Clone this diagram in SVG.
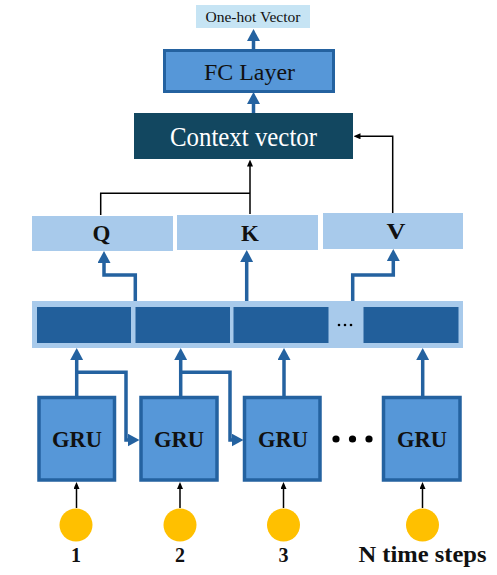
<svg xmlns="http://www.w3.org/2000/svg" width="497" height="575" viewBox="0 0 497 575">
<defs>
<style>
.serif{font-family:"Liberation Serif","DejaVu Serif",serif;}
.b{font-weight:bold;}
.blue{fill:none;stroke:#2462a0;stroke-width:3.5;stroke-linejoin:miter;}
.thin{fill:none;stroke:#000;stroke-width:1.5;}
.gru{fill:#5697d8;stroke:#2462a0;stroke-width:3.5;}
.qkv{fill:#a8caeb;}
.cell{fill:#225f9b;}
.dot{fill:#ffc000;}
</style>
<marker id="ab" markerUnits="userSpaceOnUse" markerWidth="12" markerHeight="13" viewBox="0 0 12 13" refX="0.5" refY="6.5" orient="auto">
<path d="M0,0 L12,6.5 L0,13 z" fill="#2462a0"/>
</marker>
<marker id="ak" markerUnits="userSpaceOnUse" markerWidth="7" markerHeight="6" viewBox="0 0 7 6" refX="0.5" refY="3" orient="auto">
<path d="M0,0 L7,3 L0,6 z" fill="#000"/>
</marker>
</defs>
<rect width="497" height="575" fill="#fff"/>

<g id="onehot">
<rect x="196" y="5" width="114" height="23" fill="#c6e4f4"/>
<text class="serif" x="253" y="21.5" font-size="15" text-anchor="middle" textLength="95" lengthAdjust="spacingAndGlyphs" fill="#111">One-hot Vector</text>
</g>
<g id="fc">
<rect x="164.5" y="50.5" width="169" height="41" fill="#5697d8" stroke="#2462a0" stroke-width="3"/>
<text class="serif" x="249.5" y="80" font-size="22.5" text-anchor="middle" textLength="91" lengthAdjust="spacingAndGlyphs" fill="#111">FC Layer</text>
</g>
<g id="context">
<rect x="134" y="113" width="219" height="46" fill="#124760"/>
<text class="serif" x="243.5" y="146" font-size="28" text-anchor="middle" textLength="147" lengthAdjust="spacingAndGlyphs" fill="#fff">Context vector</text>
</g>
<g id="Q">
<rect class="qkv" x="32" y="216" width="141" height="35"/>
<text class="serif b" x="101.5" y="240.5" font-size="23" text-anchor="middle" fill="#111">Q</text>
</g>
<g id="K">
<rect class="qkv" x="177" y="215" width="141" height="35"/>
<text class="serif b" x="250" y="241" font-size="23" text-anchor="middle" fill="#111">K</text>
</g>
<g id="V">
<rect class="qkv" x="323" y="213" width="140" height="36"/>
<text class="serif b" x="396" y="239" font-size="23" text-anchor="middle" textLength="19" lengthAdjust="spacingAndGlyphs" fill="#111">V</text>
</g>
<g id="hidden">
<rect x="32" y="301" width="431" height="47" fill="#a8caeb"/>
<rect class="cell" x="37" y="307" width="94" height="36"/>
<rect class="cell" x="135.5" y="307" width="94.5" height="36"/>
<rect class="cell" x="233.5" y="307" width="95" height="36"/>
<rect class="cell" x="363.5" y="307" width="95" height="36"/>
<circle cx="339" cy="325" r="1.3" fill="#000"/>
<circle cx="345" cy="325" r="1.3" fill="#000"/>
<circle cx="351" cy="325" r="1.3" fill="#000"/>
</g>
<g id="gru1">
<rect class="gru" x="39" y="397.5" width="75.5" height="82.5"/>
<text class="serif b" x="77" y="446.5" font-size="23.5" text-anchor="middle" textLength="50" lengthAdjust="spacingAndGlyphs" fill="#111">GRU</text>
</g>
<g id="gru2">
<rect class="gru" x="141" y="397.5" width="76" height="82.5"/>
<text class="serif b" x="179" y="446.5" font-size="23.5" text-anchor="middle" textLength="50" lengthAdjust="spacingAndGlyphs" fill="#111">GRU</text>
</g>
<g id="gru3">
<rect class="gru" x="244.5" y="397.5" width="75.5" height="82.5"/>
<text class="serif b" x="283" y="446.5" font-size="23.5" text-anchor="middle" textLength="50" lengthAdjust="spacingAndGlyphs" fill="#111">GRU</text>
</g>
<g id="gru4">
<rect class="gru" x="383.5" y="397.5" width="76.5" height="82.5"/>
<text class="serif b" x="422" y="446.5" font-size="23.5" text-anchor="middle" textLength="50" lengthAdjust="spacingAndGlyphs" fill="#111">GRU</text>
</g>
<g id="dots">
<circle cx="336" cy="439" r="3.6" fill="#000"/>
<circle cx="352.5" cy="439" r="3.6" fill="#000"/>
<circle cx="369" cy="439" r="3.6" fill="#000"/>
</g>
<g id="in1"><circle class="dot" cx="76" cy="525" r="16.5"/><text class="serif b" x="76" y="562" font-size="20" text-anchor="middle" fill="#111">1</text></g>
<g id="in2"><circle class="dot" cx="180" cy="525" r="16.5"/><text class="serif b" x="180" y="562" font-size="20" text-anchor="middle" fill="#111">2</text></g>
<g id="in3"><circle class="dot" cx="283.5" cy="525" r="16.5"/><text class="serif b" x="283.5" y="562" font-size="20" text-anchor="middle" fill="#111">3</text></g>
<g id="inN"><circle class="dot" cx="422.5" cy="525" r="16.5"/><text class="serif b" x="422.5" y="561.5" font-size="22.5" text-anchor="middle" textLength="128" lengthAdjust="spacingAndGlyphs" fill="#111">N time steps</text></g>

<g id="connectors">
<path class="blue" d="M253.5,49 V40.5" marker-end="url(#ab)"/>
<path class="blue" d="M253.5,113 V103.5" marker-end="url(#ab)"/>
<path class="thin" d="M392.7,213 V136.3 H360" marker-end="url(#ak)"/>
<path class="thin" d="M100.7,215 V193.3 H250"/>
<path class="thin" d="M250,214 V166" marker-end="url(#ak)"/>
<path class="blue" d="M135.3,301 V275 H104 V262.5" marker-end="url(#ab)"/>
<path class="blue" d="M246.7,301 V261.5" marker-end="url(#ab)"/>
<path class="blue" d="M352.7,301 V275 H393.3 V260.5" marker-end="url(#ab)"/>
<path class="blue" d="M76.7,396 V359.5" marker-end="url(#ab)"/>
<path class="blue" d="M76.7,372.3 H126 V440 H128" marker-end="url(#ab)"/>
<path class="blue" d="M180.7,396 V359.5" marker-end="url(#ab)"/>
<path class="blue" d="M180.7,372.3 H230 V440 H232" marker-end="url(#ab)"/>
<path class="blue" d="M284,396 V359.5" marker-end="url(#ab)"/>
<path class="blue" d="M422.7,396 V359.5" marker-end="url(#ab)"/>
<path class="thin" d="M76.5,508 V488.5" marker-end="url(#ak)"/>
<path class="thin" d="M180,508 V488.5" marker-end="url(#ak)"/>
<path class="thin" d="M283.5,508 V488.5" marker-end="url(#ak)"/>
<path class="thin" d="M422.5,508 V488.5" marker-end="url(#ak)"/>
</g>
</svg>
